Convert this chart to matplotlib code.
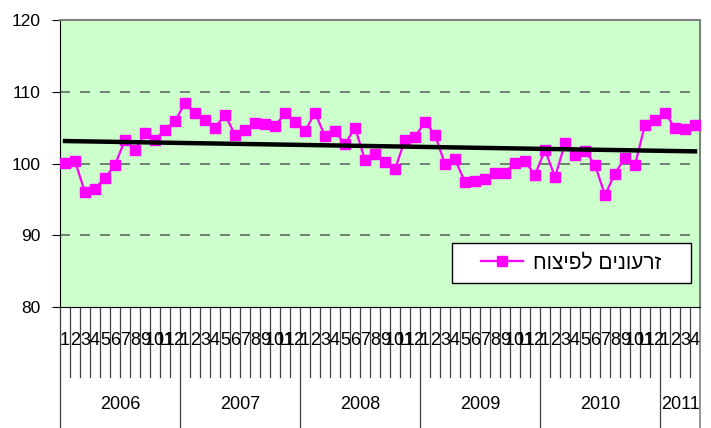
import matplotlib.pyplot as plt
import matplotlib.transforms as mtransforms
from matplotlib.patches import Rectangle
import numpy as np

plt.rcParams['font.family'] = ['Liberation Sans', 'DejaVu Sans']

years = ["2006", "2007", "2008", "2009", "2010", "2011"]
months_per_year = [12, 12, 12, 12, 12, 4]
series_label = "זרעונים לפיצוח"

# monthly index, Jan 2006 .. Apr 2011
values = [
    100.1, 100.3, 96.0, 96.5, 98.0, 99.8, 103.3, 101.9, 104.2, 103.3, 104.7, 105.9,
    108.4, 107.0, 106.1, 105.0, 106.8, 104.0, 104.6, 105.6, 105.5, 105.2, 107.0, 105.8,
    104.5, 107.1, 103.8, 104.5, 102.7, 105.0, 100.5, 101.3, 100.2, 99.2, 103.3, 103.7,
    105.8, 104.0, 99.9, 100.6, 97.4, 97.6, 97.9, 98.7, 98.7, 100.1, 100.3, 98.4,
    101.9, 98.1, 102.8, 101.2, 101.8, 99.8, 95.6, 98.6, 100.8, 99.8, 105.4, 106.1,
    107.0, 105.0, 104.8, 105.4,
]

W, H = 711, 428


def rtl(s):
    # matplotlib has no bidi support, flip hebrew for display
    return s[::-1]


def main():
    fig = plt.figure(figsize=(W / 100, H / 100), dpi=100)
    ax = fig.add_axes([60 / W, (H - 307) / H, 640 / W, 287 / H])
    ax.set_facecolor("#CCFFCC")

    n = len(values)
    x = np.arange(n) + 0.5

    for g in [90, 100, 110]:
        ax.axhline(g, color="#5f6b5f", lw=1.2, dashes=(6, 6), zorder=1)

    ax.plot(x, values, color="#FF00FF", lw=1.6, marker="s", markersize=7.5,
            markeredgecolor="#FF00FF", label=rtl(series_label), zorder=3)

    coef = np.polyfit(x, values, 1)
    ax.plot([x[0], x[-1]], np.polyval(coef, [x[0], x[-1]]), color="black", lw=3.2, zorder=4)

    ax.set_xlim(0, n)
    ax.set_ylim(80, 120)
    ax.set_yticks([80, 90, 100, 110, 120])
    ax.tick_params(axis="y", direction="out", length=6, labelsize=12.5, pad=8)
    ax.set_xticks([])

    for side in ["top", "right"]:
        ax.spines[side].set_color("#808080")
        ax.spines[side].set_linewidth(1.5)
    ax.spines["left"].set_color("black")
    ax.spines["bottom"].set_color("black")

    # two level category axis
    trans = mtransforms.blended_transform_factory(ax.transData, ax.transAxes)
    m_bottom = -0.244
    y_bottom = -0.43
    pos = 0
    for yr, cnt in zip(years, months_per_year):
        ax.plot([pos, pos], [0, y_bottom], transform=trans, color="#404040", lw=0.9, clip_on=False)
        for m in range(cnt):
            if m > 0:
                ax.plot([pos + m, pos + m], [0, m_bottom], transform=trans, color="#404040",
                        lw=0.9, clip_on=False)
            ax.text(pos + m + 0.5, -0.115, str(m + 1), transform=trans, ha="center", va="center",
                    fontsize=13)
        ax.text(pos + cnt / 2, -0.341, yr, transform=trans, ha="center", va="center", fontsize=13)
        pos += cnt
    ax.plot([pos, pos], [0, y_bottom], transform=trans, color="#808080", lw=1.2, clip_on=False)

    # legend box drawn by hand so the padding matches
    bx0, by0, bx1, by1 = 452, 243, 691, 283
    ax.add_patch(Rectangle(((bx0 - 60) / 640, (307 - by1) / 287), (bx1 - bx0) / 640, (by1 - by0) / 287,
                           transform=ax.transAxes, facecolor="white", edgecolor="black", lw=1,
                           zorder=5))
    leg = ax.legend(loc="center", bbox_to_anchor=(((bx0 + bx1) / 2 - 60) / 640, (307 - (by0 + by1) / 2) / 287),
                    fontsize=15, frameon=False, borderpad=0, handlelength=2.0, handletextpad=0.5)
    leg.set_zorder(6)

    fig.savefig("out.png", dpi=100)


if __name__ == "__main__":
    main()
